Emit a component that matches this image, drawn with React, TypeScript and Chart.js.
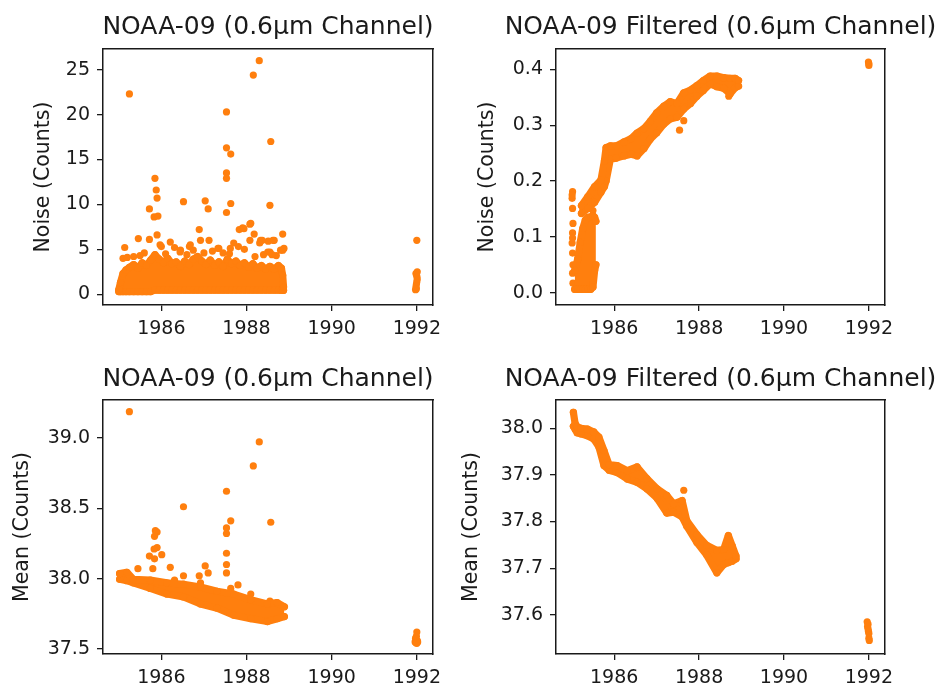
import React, { useEffect, useRef } from "react";
import { Chart, registerables } from "chart.js";

Chart.register(...registerables);

const ORANGE = "#ff7f0e";
const INK = "#1a1a1a";
const FONT = "'DejaVu Sans', 'Noto Sans', sans-serif";

const xTickYears = [1986, 1988, 1990, 1992];

// ---------- Panel 1: NOAA-09 noise (raw) ----------
const noiseRawTicks = [0, 5, 10, 15, 20, 25];
const noiseRawBandYears = [1985.0, 1985.04, 1985.1, 1985.17, 1985.25, 1985.35, 1985.45, 1985.55, 1985.65, 1985.75, 1985.85, 1985.95, 1986.05, 1986.15, 1986.25, 1986.35, 1986.45, 1986.55, 1986.65, 1986.75, 1986.85, 1986.95, 1987.05, 1987.15, 1987.25, 1987.35, 1987.45, 1987.55, 1987.65, 1987.75, 1987.85, 1987.95, 1988.05, 1988.15, 1988.25, 1988.35, 1988.45, 1988.55, 1988.65, 1988.75, 1988.82, 1988.85, 1988.87];
const noiseRawBandTop = [0.5, 1.3, 2.3, 2.7, 3.0, 3.3, 2.9, 3.5, 3.2, 3.8, 4.4, 3.9, 3.5, 4.0, 3.4, 3.6, 3.1, 3.7, 3.3, 3.9, 4.2, 3.7, 3.3, 3.8, 3.2, 3.6, 3.1, 3.9, 3.4, 3.7, 3.2, 3.5, 3.0, 3.4, 2.9, 3.2, 2.8, 3.1, 2.8, 3.2, 2.9, 2.1, 0.8];
const noiseRawBandBottom = [0.3, 0.3, 0.3, 0.3, 0.3, 0.3, 0.3, 0.3, 0.3, 0.3, 0.45, 0.45, 0.45, 0.45, 0.45, 0.45, 0.45, 0.45, 0.45, 0.45, 0.45, 0.45, 0.45, 0.45, 0.45, 0.45, 0.45, 0.45, 0.45, 0.45, 0.45, 0.45, 0.45, 0.45, 0.45, 0.45, 0.45, 0.45, 0.45, 0.45, 0.45, 0.45, 0.45];
const noiseRawDotYears = [1985.25, 1988.3, 1988.16, 1987.53, 1987.53, 1987.63, 1988.57, 1987.53, 1987.53, 1987.53, 1987.63, 1988.55, 1985.85, 1985.88, 1985.9, 1985.72, 1985.83, 1985.92, 1986.52, 1987.03, 1987.1, 1988.08, 1987.83, 1987.91, 1986.89, 1988.85, 1988.18, 1988.08, 1988.62, 1988.51, 1985.14, 1985.46, 1985.72, 1985.9, 1986.21, 1986.31, 1986.66, 1987.33, 1987.62, 1987.81, 1988.31, 1988.55, 1988.88, 1986.45, 1986.92, 1987.12, 1987.35, 1988.33, 1988.65, 1988.85, 1988.5, 1985.35, 1986.0, 1986.75, 1987.2, 1987.45, 1987.95, 1988.4, 1988.7, 1985.6, 1985.1, 1985.2, 1985.97, 1986.44, 1986.68, 1987.7, 1987.94, 1988.1, 1988.37, 1988.8, 1985.5, 1986.1, 1986.6, 1987.0, 1987.6, 1988.2, 1988.6];
const noiseRawDotValues = [22.3, 26.0, 24.4, 20.3, 16.3, 15.6, 17.0, 13.5, 12.9, 9.1, 10.1, 9.9, 12.9, 11.6, 10.7, 9.5, 8.6, 8.7, 10.3, 10.4, 9.5, 7.8, 7.2, 7.4, 7.2, 6.7, 6.7, 6.0, 6.0, 5.9, 5.2, 6.2, 6.1, 6.6, 5.8, 5.2, 5.3, 5.1, 5.1, 5.3, 5.7, 4.7, 5.1, 4.9, 6.0, 6.0, 5.1, 6.0, 6.0, 4.9, 4.7, 4.2, 5.3, 4.9, 4.8, 4.6, 5.0, 4.4, 4.3, 4.6, 4.0, 4.1, 5.5, 4.7, 5.5, 5.7, 7.3, 7.9, 6.0, 4.9, 4.3, 4.5, 4.4, 4.6, 4.5, 4.2, 4.4];
const noiseRawLateYears = [1991.97, 1991.98, 1991.99, 1992.0, 1992.01, 1992.0, 1991.98, 1992.01, 1991.99, 1992.0];
const noiseRawLateValues = [0.5, 0.8, 1.1, 1.4, 1.7, 2.0, 2.3, 2.5, 0.6, 6.0];

// ---------- Panel 2: NOAA-09 noise (filtered) ----------
const noiseFiltTicks = [0.0, 0.1, 0.2, 0.3, 0.4];
const noiseFiltBandYears = [1985.23, 1985.38, 1985.54, 1985.69, 1985.77, 1985.81, 1985.91, 1986.05, 1986.23, 1986.4, 1986.54, 1986.7, 1986.85, 1987.0, 1987.17, 1987.32, 1987.48, 1987.64, 1987.8, 1987.95, 1988.1, 1988.26, 1988.42, 1988.58, 1988.73, 1988.85, 1988.93];
const noiseFiltBandTop = [0.156, 0.172, 0.19, 0.202, 0.236, 0.26, 0.263, 0.263, 0.27, 0.276, 0.286, 0.294, 0.307, 0.322, 0.334, 0.342, 0.339, 0.358, 0.363, 0.371, 0.38, 0.388, 0.388, 0.385, 0.384, 0.384, 0.38];
const noiseFiltBandBottom = [0.142, 0.151, 0.162, 0.18, 0.19, 0.2, 0.239, 0.241, 0.245, 0.248, 0.245, 0.258, 0.275, 0.286, 0.302, 0.311, 0.314, 0.329, 0.339, 0.352, 0.362, 0.374, 0.369, 0.366, 0.356, 0.367, 0.37];
const noiseFiltEarlyYears = [1985.07, 1985.14, 1985.2, 1985.26, 1985.32, 1985.38, 1985.45, 1985.5, 1985.54, 1985.57];
const noiseFiltEarlyTop = [0.04, 0.06, 0.09, 0.115, 0.13, 0.135, 0.136, 0.138, 0.135, 0.128];
const noiseFiltEarlyBottom = [0.006, 0.006, 0.006, 0.006, 0.006, 0.006, 0.006, 0.01, 0.04, 0.05];
const noiseFiltDotYears = [1985.02, 1985.01, 1985.02, 1985.03, 1985.02, 1985.01, 1985.02, 1985.03, 1985.02, 1985.03, 1985.01, 1985.02, 1985.26, 1985.5, 1987.54, 1987.64, 1988.7];
const noiseFiltDotValues = [0.181, 0.169, 0.151, 0.124, 0.107, 0.089, 0.071, 0.05, 0.035, 0.017, 0.175, 0.098, 0.148, 0.147, 0.291, 0.308, 0.352];
const noiseFiltLateYears = [1991.99, 1992.0, 1992.0];
const noiseFiltLateValues = [0.413, 0.407, 0.41];

// ---------- Panel 3: NOAA-09 mean (raw) ----------
const meanRawTicks = [37.5, 38.0, 38.5, 39.0];
const meanRawBandYears = [1985.02, 1985.19, 1985.34, 1985.74, 1986.13, 1986.52, 1986.92, 1987.31, 1987.7, 1988.1, 1988.49, 1988.72, 1988.89];
const meanRawBandTop = [38.035, 38.045, 37.995, 37.99, 37.97, 37.96, 37.94, 37.91, 37.89, 37.85, 37.82, 37.83, 37.8];
const meanRawBandBottom = [37.995, 37.985, 37.97, 37.93, 37.89, 37.87, 37.82, 37.79, 37.74, 37.715, 37.695, 37.715, 37.73];
const meanRawDotYears = [1985.25, 1988.3, 1988.16, 1987.53, 1986.52, 1987.63, 1988.57, 1987.53, 1987.53, 1985.86, 1985.9, 1985.84, 1985.9, 1985.83, 1985.72, 1986.01, 1985.84, 1987.53, 1987.53, 1987.53, 1987.03, 1987.1, 1986.21, 1985.45, 1985.8, 1986.52, 1986.31, 1986.89, 1987.8, 1987.63, 1988.1, 1987.88, 1988.55, 1988.72, 1986.92];
const meanRawDotValues = [39.185, 38.97, 38.8, 38.62, 38.51, 38.41, 38.4, 38.36, 38.32, 38.34, 38.33, 38.3, 38.22, 38.21, 38.16, 38.17, 38.14, 38.18, 38.1, 38.04, 38.09, 38.04, 38.08, 38.07, 38.07, 38.02, 37.99, 38.02, 37.955, 37.93, 37.89, 37.86, 37.84, 37.82, 37.97];
const meanRawLateYears = [1991.96, 1991.97, 1991.99, 1992.0, 1992.01, 1992.02, 1992.0, 1991.98];
const meanRawLateValues = [37.55, 37.575, 37.59, 37.62, 37.56, 37.55, 37.54, 37.545];

// ---------- Panel 4: NOAA-09 mean (filtered) ----------
const meanFiltTicks = [37.6, 37.7, 37.8, 37.9, 38.0];
const meanFiltBandYears = [1985.04, 1985.08, 1985.13, 1985.21, 1985.37, 1985.52, 1985.64, 1985.76, 1985.88, 1986.07, 1986.31, 1986.54, 1986.77, 1987.01, 1987.24, 1987.4, 1987.6, 1987.71, 1987.95, 1988.18, 1988.42, 1988.58, 1988.69, 1988.78, 1988.87];
const meanFiltBandTop = [38.034, 38.01, 38.003, 38.0, 37.998, 37.992, 37.981, 37.952, 37.922, 37.92, 37.909, 37.917, 37.892, 37.87, 37.856, 37.838, 37.845, 37.802, 37.772, 37.749, 37.738, 37.74, 37.77, 37.748, 37.726];
const meanFiltBandBottom = [38.004, 37.998, 37.99, 37.988, 37.984, 37.977, 37.96, 37.92, 37.91, 37.905, 37.891, 37.884, 37.87, 37.85, 37.818, 37.82, 37.81, 37.79, 37.755, 37.728, 37.69, 37.708, 37.712, 37.715, 37.72];
const meanFiltDotYears = [1987.64];
const meanFiltDotValues = [37.867];
const meanFiltLateYears = [1991.96, 1991.97, 1991.98, 1991.99, 1992.0, 1992.0, 1992.01, 1991.98];
const meanFiltLateValues = [37.585, 37.575, 37.58, 37.565, 37.56, 37.55, 37.545, 37.57];

const zip = (xs: number[], ys: number[]) => xs.map((x, i) => ({ x, y: ys[i] }));

type Band = { years: number[]; top: number[]; bottom: number[] };
type Dots = { years: number[]; values: number[] };

type PanelSpec = {
  title: string;
  yLabel: string;
  left: number;
  top: number;
  width: number;
  height: number;
  yAxisWidth: number;
  rightWidth: number;
  xAxisHeight: number;
  titlePadTop: number;
  titlePadBottom: number;
  yTitlePad: number;
  xMin: number;
  xMax: number;
  yMin: number;
  yMax: number;
  yTicks: number[];
  yDecimals: number;
  bands: Band[];
  dots: Dots[];
};

const R = 3.6;

function buildDatasets(spec: PanelSpec) {
  const ds: any[] = [];
  spec.bands.forEach((b) => {
    ds.push({
      data: zip(b.years, b.top),
      showLine: true,
      fill: false,
      borderColor: ORANGE,
      borderWidth: R * 2,
      borderJoinStyle: "round",
      borderCapStyle: "round",
      pointRadius: R,
      pointBorderWidth: 0,
      pointBackgroundColor: ORANGE,
    });
    ds.push({
      data: zip(b.years, b.bottom),
      showLine: true,
      fill: "-1",
      backgroundColor: ORANGE,
      borderColor: ORANGE,
      borderWidth: R * 2,
      borderJoinStyle: "round",
      borderCapStyle: "round",
      pointRadius: R,
      pointBorderWidth: 0,
      pointBackgroundColor: ORANGE,
    });
  });
  spec.dots.forEach((d) => {
    ds.push({
      data: zip(d.years, d.values),
      showLine: false,
      fill: false,
      borderColor: ORANGE,
      pointRadius: R,
      pointBorderWidth: 0,
      pointBackgroundColor: ORANGE,
    });
  });
  return ds;
}

function Panel({ spec }: { spec: PanelSpec }) {
  const ref = useRef<HTMLCanvasElement | null>(null);
  useEffect(() => {
    if (!ref.current) return;
    const tickFont = { family: FONT, size: 19, lineHeight: 1.2 };
    const chart = new Chart(ref.current, {
      type: "line",
      data: { datasets: buildDatasets(spec) },
      options: {
        animation: false,
        responsive: false,
        events: [],
        elements: { line: { tension: 0 } },
        layout: { padding: 0 },
        plugins: {
          legend: { display: false },
          tooltip: { enabled: false },
          title: {
            display: true,
            text: spec.title,
            color: INK,
            fullSize: true,
            font: { family: FONT, size: 25, weight: "normal", lineHeight: 1.2 },
            padding: { top: spec.titlePadTop, bottom: spec.titlePadBottom },
          },
        },
        scales: {
          x: {
            type: "linear",
            position: "bottom",
            min: spec.xMin,
            max: spec.xMax,
            afterBuildTicks: (s: any) => {
              s.ticks = xTickYears.map((v) => ({ value: v }));
            },
            afterFit: (s: any) => {
              s.height = spec.xAxisHeight;
            },
            ticks: {
              callback: (v: any) => String(v),
              font: tickFont,
              color: INK,
              padding: 7,
              maxRotation: 0,
              autoSkip: false,
            },
            grid: { display: true, drawOnChartArea: false, drawTicks: true, tickLength: 6, color: INK, lineWidth: 1.3 },
            border: { display: true, color: INK, width: 1.5 },
          },
          xTop: {
            type: "linear",
            position: "top",
            min: 0,
            max: 1,
            afterFit: (s: any) => {
              s.height = 0;
            },
            ticks: { display: false },
            grid: { display: false, drawTicks: false },
            border: { display: true, color: INK, width: 1.5 },
          },
          y: {
            type: "linear",
            position: "left",
            min: spec.yMin,
            max: spec.yMax,
            afterBuildTicks: (s: any) => {
              s.ticks = spec.yTicks.map((v) => ({ value: v }));
            },
            afterFit: (s: any) => {
              s.width = spec.yAxisWidth;
            },
            ticks: {
              callback: (v: any) => Number(v).toFixed(spec.yDecimals),
              font: tickFont,
              color: INK,
              padding: 7,
              autoSkip: false,
            },
            title: {
              display: true,
              text: spec.yLabel,
              color: INK,
              font: { family: FONT, size: 20.5, lineHeight: 1.2 },
              padding: { top: spec.yTitlePad, bottom: 0 },
            },
            grid: { display: true, drawOnChartArea: false, drawTicks: true, tickLength: 6, color: INK, lineWidth: 1.3 },
            border: { display: true, color: INK, width: 1.5 },
          },
          yRight: {
            type: "linear",
            position: "right",
            min: 0,
            max: 1,
            afterFit: (s: any) => {
              s.width = spec.rightWidth;
            },
            ticks: { display: false },
            grid: { display: false, drawTicks: false },
            border: { display: true, color: INK, width: 1.5 },
          },
        },
      } as any,
    });
    return () => chart.destroy();
  }, [spec]);
  return (
    <canvas
      ref={ref}
      width={spec.width}
      height={spec.height}
      style={{ position: "absolute", left: spec.left, top: spec.top, width: spec.width, height: spec.height }}
    />
  );
}

const X_MIN = 1984.63;
const X_MAX = 1992.38;

const panels: PanelSpec[] = [
  {
    title: "NOAA-09 (0.6\u03bcm Channel)",
    yLabel: "Noise (Counts)",
    left: 0, top: 0, width: 536, height: 344,
    yAxisWidth: 103, rightWidth: 103, xAxisHeight: 39,
    titlePadTop: 12.6, titlePadBottom: 6.4, yTitlePad: 31.6,
    xMin: X_MIN, xMax: X_MAX, yMin: -1.2, yMax: 27.3,
    yTicks: noiseRawTicks, yDecimals: 0,
    bands: [{ years: noiseRawBandYears, top: noiseRawBandTop, bottom: noiseRawBandBottom }],
    dots: [
      { years: noiseRawDotYears, values: noiseRawDotValues },
      { years: noiseRawLateYears, values: noiseRawLateValues },
    ],
  },
  {
    title: "NOAA-09 Filtered (0.6\u03bcm Channel)",
    yLabel: "Noise (Counts)",
    left: 455, top: 0, width: 531, height: 344,
    yAxisWidth: 101, rightWidth: 101, xAxisHeight: 39,
    titlePadTop: 12.6, titlePadBottom: 6.4, yTitlePad: 20.6,
    xMin: X_MIN, xMax: X_MAX, yMin: -0.022, yMax: 0.4364,
    yTicks: noiseFiltTicks, yDecimals: 1,
    bands: [
      { years: noiseFiltBandYears, top: noiseFiltBandTop, bottom: noiseFiltBandBottom },
      { years: noiseFiltEarlyYears, top: noiseFiltEarlyTop, bottom: noiseFiltEarlyBottom },
    ],
    dots: [
      { years: noiseFiltDotYears, values: noiseFiltDotValues },
      { years: noiseFiltLateYears, values: noiseFiltLateValues },
    ],
  },
  {
    title: "NOAA-09 (0.6\u03bcm Channel)",
    yLabel: "Mean (Counts)",
    left: 0, top: 344, width: 536, height: 344,
    yAxisWidth: 103, rightWidth: 103, xAxisHeight: 34,
    titlePadTop: 20.9, titlePadBottom: 5.1, yTitlePad: 9.9,
    xMin: X_MIN, xMax: X_MAX, yMin: 37.4645, yMax: 39.268,
    yTicks: meanRawTicks, yDecimals: 1,
    bands: [{ years: meanRawBandYears, top: meanRawBandTop, bottom: meanRawBandBottom }],
    dots: [
      { years: meanRawDotYears, values: meanRawDotValues },
      { years: meanRawLateYears, values: meanRawLateValues },
    ],
  },
  {
    title: "NOAA-09 Filtered (0.6\u03bcm Channel)",
    yLabel: "Mean (Counts)",
    left: 455, top: 344, width: 531, height: 344,
    yAxisWidth: 101, rightWidth: 101, xAxisHeight: 34,
    titlePadTop: 20.9, titlePadBottom: 5.1, yTitlePad: 4.7,
    xMin: X_MIN, xMax: X_MAX, yMin: 37.516, yMax: 38.0605,
    yTicks: meanFiltTicks, yDecimals: 1,
    bands: [{ years: meanFiltBandYears, top: meanFiltBandTop, bottom: meanFiltBandBottom }],
    dots: [
      { years: meanFiltDotYears, values: meanFiltDotValues },
      { years: meanFiltLateYears, values: meanFiltLateValues },
    ],
  },
];

export default function App() {
  return (
    <div
      style={{
        position: "fixed",
        left: 0,
        top: 0,
        width: 940,
        height: 688,
        overflow: "hidden",
        background: "#ffffff",
      }}
    >
      {panels.map((p, i) => (
        <Panel key={i} spec={p} />
      ))}
    </div>
  );
}
